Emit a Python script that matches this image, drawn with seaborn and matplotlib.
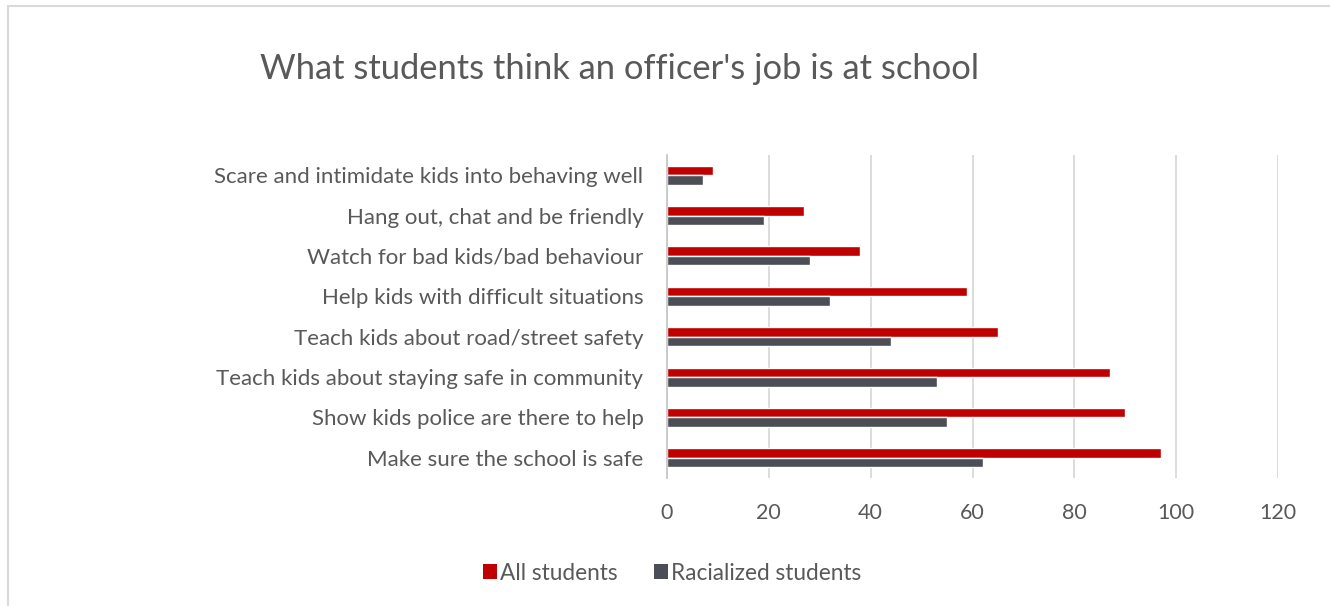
import matplotlib
matplotlib.use("Agg")
import matplotlib.pyplot as plt
from matplotlib.patches import Patch
from matplotlib.lines import Line2D
import seaborn as sns
import pandas as pd

# Survey responses: what students think a school officer's job is
roles = [
    "Scare and intimidate kids into behaving well",
    "Hang out, chat and be friendly",
    "Watch for bad kids/bad behaviour",
    "Help kids with difficult situations",
    "Teach kids about road/street safety",
    "Teach kids about staying safe in community",
    "Show kids police are there to help",
    "Make sure the school is safe",
]
all_students = [9, 27, 38, 59, 65, 87, 90, 97]
racialized_students = [7, 19, 28, 32, 44, 53, 55, 62]
series_names = ["All students", "Racialized students"]
x_ticks = [0, 20, 40, 60, 80, 100, 120]

df = pd.DataFrame({
    "role": roles * 2,
    "value": all_students + racialized_students,
    "group": [series_names[0]] * len(roles) + [series_names[1]] * len(roles),
})

RED = "#C00000"
GRAY = "#4B4E57"
TEXT = "#595959"
GRID = "#D9D9D9"

sns.set_style("white")
plt.rcParams["font.family"] = ["Lato", "DejaVu Sans"]

W, H = 1330, 606
fig = plt.figure(figsize=(W / 100, H / 100), dpi=100)
ax = fig.add_axes([667 / W, 1 - 478 / H, (1278 - 667) / W, (478 - 155) / H])

sns.barplot(
    data=df, y="role", x="value", hue="group", order=roles,
    hue_order=series_names, palette=[RED, GRAY], width=0.47,
    orient="h", ax=ax, legend=False, saturation=1,
)

ax.set_xlim(0, 120)
ax.set_xticks(x_ticks)
ax.set_xticklabels([str(t) for t in x_ticks])
ax.set_xlabel("")
ax.set_ylabel("")
ax.xaxis.grid(True, color=GRID, linewidth=1.3)
ax.set_axisbelow(True)
for s in ["top", "right", "bottom"]:
    ax.spines[s].set_visible(False)
ax.spines["left"].set_color("#C8C8C8")
ax.spines["left"].set_linewidth(1.3)
ax.tick_params(axis="both", length=0, colors=TEXT)
ax.tick_params(axis="y", labelsize=16, pad=17)
ax.tick_params(axis="x", labelsize=15.5, pad=18)

fig.text(620 / W, 1 - 69 / H, "What students think an officer's job is at school",
         ha="center", va="center", fontsize=24.8, color=TEXT)

handles = [Patch(facecolor=RED, edgecolor="none"), Patch(facecolor=GRAY, edgecolor="none")]
fig.legend(handles, series_names, loc="center", bbox_to_anchor=(672 / W, 1 - 573 / H),
           ncol=2, frameon=False, fontsize=16.3, labelcolor=TEXT,
           handlelength=0.62, handleheight=0.62, handletextpad=0.15, columnspacing=1.6)

# Chart-area border (top and left edges)
fig.add_artist(Line2D([8 / W, 1], [1 - 6 / H, 1 - 6 / H], color=GRID, linewidth=1.5,
                      transform=fig.transFigure))
fig.add_artist(Line2D([8 / W, 8 / W], [0, 1 - 6 / H], color=GRID, linewidth=1.5,
                      transform=fig.transFigure))

fig.savefig("out.png", dpi=100, facecolor="white")
